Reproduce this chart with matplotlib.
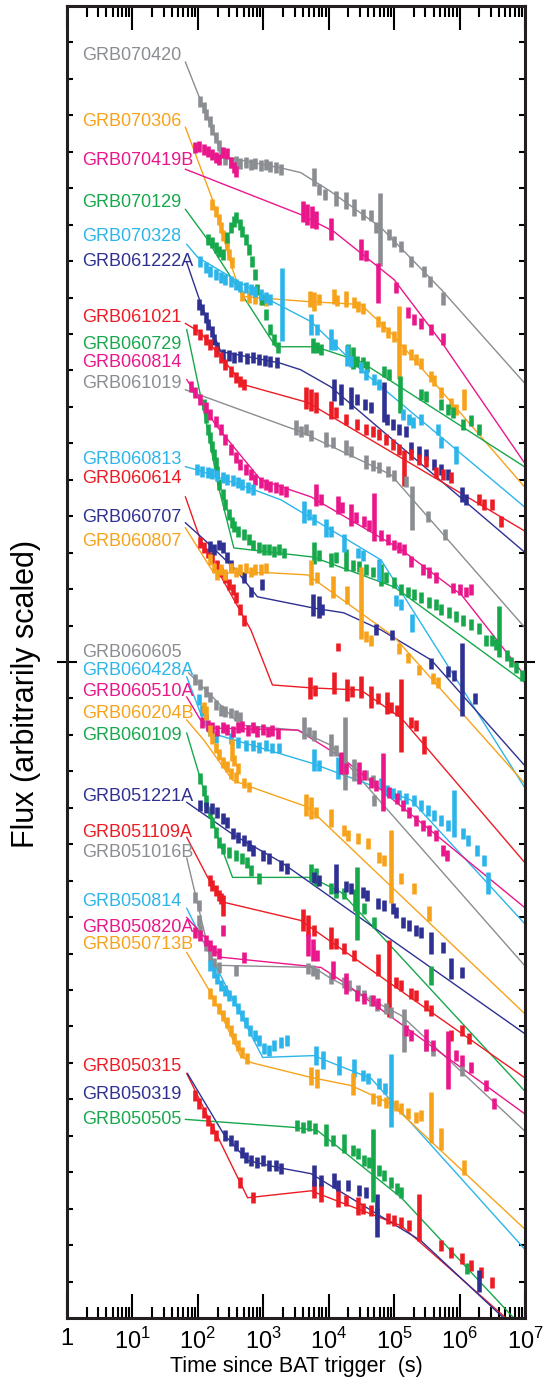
import numpy as np
import matplotlib
matplotlib.use("Agg")
import matplotlib.pyplot as plt
from matplotlib.ticker import FixedLocator, NullFormatter, LogLocator

plt.rcParams["font.family"] = "Liberation Sans"
plt.rcParams["mathtext.fontset"] = "custom"
plt.rcParams["mathtext.rm"] = "Liberation Sans"

GRAY = "#8a8d91"
ORANGE = "#f6a31b"
MAGENTA = "#e9178b"
GREEN = "#17a84b"
CYAN = "#2cb5ea"
NAVY = "#2e3192"
RED = "#ec1c24"

# all values: (log10 t [s], log10 flux [arbitrary]) ; data points may carry a 3rd
# entry = half height of the error bar in dex
g070420_fit = [(1.81, 16.46), (2.38, 13.87), (3.31, 13.54), (3.57, 13.43), (4.03, 12.91), (4.80, 11.92), (5.72, 10.22), (6.99, 7.66)]
g070420_pts = [(2.04, 15.38), (2.09, 15.22), (2.13, 15.03), (2.18, 14.84), (2.22, 14.62), (2.27, 14.40), (2.32, 14.18), (2.36, 13.98),
               (2.42, 13.79), (2.50, 13.71), (2.58, 13.74), (2.65, 13.68), (2.73, 13.71), (2.81, 13.65), (2.88, 13.68), (2.96, 13.63),
               (3.04, 13.65), (3.11, 13.60), (3.19, 13.57), (3.27, 13.52), (3.77, 13.30, 0.25), (3.85, 12.97), (3.94, 12.83),
               (4.11, 12.72, 0.2), (4.26, 12.66, 0.23), (4.39, 12.47, 0.23), (4.52, 12.28), (4.65, 12.25), (4.72, 11.92),
               (4.79, 11.87, 1.0), (4.92, 11.73), (5.0, 11.54), (5.11, 11.40), (5.26, 10.99), (5.46, 10.71), (5.55, 10.44), (5.75, 9.97, 0.17)]

g070306_fit = [(1.81, 14.67), (2.24, 12.61), (2.53, 10.77), (2.68, 10.03), (3.68, 9.89), (4.49, 9.81), (4.95, 9.04), (5.57, 7.75), (6.99, 4.81)]
g070306_pts = [(2.22, 12.55), (2.27, 12.36), (2.32, 12.14), (2.35, 11.92), (2.39, 11.70), (2.44, 11.46), (2.48, 11.18), (2.52, 10.96),
               (2.68, 10.05), (2.78, 10.0), (2.87, 9.97), (2.96, 9.95), (3.04, 9.92), (3.71, 9.95, 0.22), (3.77, 9.89, 0.27),
               (3.85, 9.95), (4.08, 10.03, 0.2), (4.13, 9.92), (4.26, 9.95, 0.22), (4.39, 9.86), (4.45, 9.75), (4.52, 9.70),
               (4.75, 9.34), (4.83, 9.20), (4.91, 9.04), (5.0, 8.93), (5.08, 8.76, 1.0), (5.15, 8.57), (5.26, 8.43), (5.34, 8.30),
               (5.41, 8.19), (5.57, 7.83), (5.61, 7.72), (5.72, 7.39), (5.87, 7.09), (5.95, 6.92), (6.07, 7.20, 0.28)]

g070419b_fit = [(1.81, 13.52), (3.57, 12.28), (4.08, 11.81), (5.0, 10.49), (5.75, 8.71), (6.99, 5.47)]
g070419b_pts = [(1.96, 14.12), (2.02, 14.15), (2.09, 14.07), (2.15, 14.01), (2.21, 13.93), (2.27, 13.85), (2.33, 13.79), (2.39, 13.98),
                (2.44, 13.96), (2.50, 13.71), (2.55, 13.57), (2.59, 13.46), (3.60, 12.36, 0.3), (3.67, 12.28, 0.3), (3.74, 12.20, 0.3),
                (3.80, 12.12, 0.25), (4.03, 11.87, 0.3), (4.49, 11.32, 0.3), (4.57, 11.15), (4.75, 10.41, 0.55), (5.03, 10.27),
                (5.21, 9.59), (5.31, 9.40), (5.41, 9.29), (5.57, 9.12), (5.75, 8.87, 0.17)]

g070129_fit = [(1.81, 12.42), (2.15, 11.59), (2.30, 11.13), (3.19, 8.65), (3.80, 8.65), (4.49, 8.24), (6.99, 5.36)]
g070129_pts = [(2.15, 11.59), (2.21, 11.51), (2.27, 11.37), (2.33, 11.26), (2.39, 11.18), (2.45, 11.65), (2.50, 11.92), (2.55, 12.09),
               (2.59, 12.20), (2.64, 12.01), (2.68, 11.81), (2.73, 11.59), (2.78, 11.32), (2.82, 10.99), (2.87, 10.63), (2.91, 10.22),
               (2.98, 9.95), (3.04, 9.53), (3.10, 9.12), (3.16, 8.85), (3.22, 8.63), (3.76, 8.68, 0.2), (3.82, 8.63), (3.88, 8.57),
               (4.29, 8.52, 0.2), (4.37, 8.35, 0.3), (4.43, 8.24), (4.52, 8.21), (4.59, 8.10), (4.85, 7.97), (4.92, 7.88),
               (5.09, 7.34, 0.5), (5.41, 7.34), (5.49, 7.28), (5.72, 7.06), (5.83, 6.92), (5.90, 6.84), (6.06, 6.51), (6.18, 6.62), (6.30, 6.37)]

g070328_fit = [(1.83, 11.46), (2.0, 11.10), (3.11, 9.92), (3.73, 9.34), (4.49, 8.02), (6.99, 4.26)]
g070328_pts = [(2.04, 10.99), (2.12, 10.82), (2.19, 10.71), (2.27, 10.63), (2.35, 10.55), (2.42, 10.49), (2.50, 10.44), (2.58, 10.36),
               (2.65, 10.30), (2.73, 10.27), (2.81, 10.22), (2.88, 10.16), (2.96, 10.08), (3.04, 10.0), (3.11, 9.95), (3.28, 9.81, 1.0),
               (3.73, 9.26, 0.3), (3.82, 9.12), (4.03, 8.85, 0.3), (4.10, 8.71), (4.28, 8.41, 0.3), (4.34, 8.24), (4.49, 8.08),
               (4.57, 7.88), (4.69, 7.75), (4.77, 7.61), (5.14, 6.79), (5.23, 6.65), (5.29, 6.57), (5.41, 6.65), (5.67, 6.37),
               (5.72, 6.02), (5.95, 5.69, 0.25)]

g061222a_fit = [(1.83, 10.96), (2.04, 9.86), (2.35, 8.52), (3.24, 8.21), (3.57, 8.02), (4.03, 7.55), (6.99, 3.02)]
g061222a_pts = [(2.02, 9.81), (2.07, 9.67), (2.12, 9.45), (2.16, 9.26), (2.21, 9.07), (2.25, 8.85), (2.30, 8.63), (2.38, 8.43),
                (2.47, 8.41), (2.56, 8.35), (2.65, 8.38), (2.75, 8.32), (2.84, 8.35), (2.93, 8.30), (3.02, 8.27), (3.11, 8.24),
                (3.21, 8.21), (4.08, 7.47, 0.3), (4.19, 7.34, 0.3), (4.34, 7.25, 0.3), (4.43, 7.20), (4.56, 7.06), (4.65, 6.98),
                (4.85, 7.14, 0.55), (4.89, 6.65), (4.98, 6.51), (5.08, 6.37), (5.18, 6.32), (5.26, 5.88), (5.38, 5.77), (5.49, 5.69),
                (5.61, 5.41), (5.72, 5.27), (5.83, 5.14), (6.03, 4.59, 0.2), (6.10, 4.45)]

g061021_fit = [(1.81, 9.29), (2.04, 9.04), (2.70, 7.61), (3.68, 7.12), (6.99, 3.60)]
g061021_pts = [(1.96, 9.12), (2.04, 8.98), (2.12, 8.85), (2.19, 8.71), (2.27, 8.52), (2.35, 8.35), (2.42, 8.16), (2.50, 7.97),
               (2.58, 7.80), (2.65, 7.69), (2.70, 7.61), (3.65, 7.25, 0.3), (3.73, 7.20, 0.3), (3.80, 7.12, 0.3), (4.03, 6.92, 0.25),
               (4.11, 6.84), (4.26, 6.65), (4.43, 6.51), (4.57, 6.37), (4.68, 6.32), (4.77, 6.24), (4.88, 6.10), (4.98, 5.96),
               (5.08, 5.82), (5.15, 5.33, 0.5), (5.26, 5.69), (5.38, 5.55), (5.49, 5.49), (5.64, 5.19), (5.75, 5.14), (5.87, 5.05),
               (6.30, 4.45), (6.38, 4.31), (6.49, 4.31), (6.64, 3.85)]

g060729_fit = [(1.83, 9.12), (2.15, 6.37), (2.30, 4.92), (2.55, 3.13), (3.76, 2.88), (5.0, 2.06), (6.99, -0.55)]
g060729_pts = [(2.09, 7.06), (2.12, 6.70), (2.15, 6.37), (2.18, 6.15), (2.21, 5.91), (2.24, 5.69), (2.27, 5.47), (2.30, 5.22),
               (2.33, 4.86), (2.38, 4.59), (2.42, 4.31), (2.47, 4.04), (2.52, 3.82), (2.56, 3.71), (2.62, 3.57), (2.70, 3.49),
               (2.78, 3.35), (2.85, 3.21), (2.93, 3.13), (3.01, 3.08), (3.08, 3.08), (3.16, 3.02), (3.24, 3.08), (3.31, 2.99),
               (3.77, 2.99, 0.3), (3.85, 2.91), (4.03, 2.80, 0.2), (4.11, 2.86), (4.26, 2.80, 0.3), (4.37, 2.66), (4.46, 2.61),
               (4.57, 2.53), (4.68, 2.47), (4.80, 2.39, 0.3), (4.88, 2.31), (5.0, 2.17), (5.11, 1.98), (5.21, 1.92), (5.31, 1.84),
               (5.41, 1.76), (5.54, 1.62), (5.64, 1.57), (5.72, 1.43), (5.84, 1.35), (5.95, 1.24), (6.06, 1.15), (6.18, 1.02),
               (6.29, 0.93), (6.41, 0.60), (6.49, 0.60), (6.56, 0.47), (6.61, 0.85, 0.7), (6.72, 0.19), (6.79, 0.0), (6.87, -0.16), (6.95, -0.36)]

g060814_fit = [(1.83, 7.75), (2.27, 6.51), (2.96, 5.0), (3.73, 4.53), (5.11, 3.08), (6.03, 1.84), (6.99, -0.36)]
g060814_pts = [(1.89, 7.55), (1.96, 7.39), (2.04, 7.20), (2.12, 6.98), (2.19, 6.79), (2.27, 6.59), (2.35, 6.37), (2.42, 6.10),
               (2.50, 5.82), (2.58, 5.60), (2.65, 5.41), (2.73, 5.27), (2.81, 5.14), (2.88, 5.0), (2.96, 4.92), (3.04, 4.86),
               (3.11, 4.81), (3.19, 4.78), (3.27, 4.73), (3.34, 4.67), (3.80, 4.59, 0.3), (3.88, 4.45), (4.14, 4.31, 0.25),
               (4.20, 4.23), (4.34, 4.04, 0.3), (4.42, 3.96), (4.54, 3.85), (4.62, 3.74), (4.69, 3.98, 0.65), (4.80, 3.46),
               (4.91, 3.35), (5.0, 3.21), (5.08, 3.13), (5.15, 3.08), (5.26, 2.75), (5.44, 2.53), (5.54, 2.45), (5.64, 2.31),
               (5.90, 2.03), (6.0, 1.98), (6.10, 1.92), (6.18, 1.98)]

g061019_fit = [(1.81, 7.47), (3.57, 6.32), (4.95, 5.14), (6.99, 0.96)]
g061019_pts = [(3.50, 6.43, 0.2), (3.57, 6.32), (3.65, 6.37), (3.73, 6.21), (3.96, 6.10, 0.2), (4.06, 6.02), (4.26, 5.88, 0.2),
               (4.34, 5.77), (4.57, 5.49, 0.2), (4.68, 5.38), (4.77, 5.33), (4.91, 5.22), (5.0, 5.11), (5.18, 4.95),
               (5.28, 4.23, 0.6), (5.52, 3.98), (5.77, 3.49)]

g060813_fit = [(1.81, 5.36), (1.99, 5.27), (2.85, 4.73), (3.27, 4.45), (4.80, 2.80), (6.99, -3.43)]
g060813_pts = [(1.99, 5.27), (2.07, 5.22), (2.15, 5.19), (2.22, 5.16), (2.30, 5.11), (2.38, 5.05), (2.45, 5.0), (2.53, 4.97),
               (2.61, 4.92), (2.68, 4.86), (2.76, 4.78), (2.84, 4.73), (3.62, 4.12, 0.3), (3.70, 4.04), (3.77, 3.90),
               (3.96, 3.68, 0.25), (4.03, 3.57), (4.23, 3.27, 0.25), (4.45, 2.99), (4.52, 2.91), (4.77, 2.53, 0.3),
               (5.03, 1.70), (5.11, 1.57), (5.28, 1.07, 0.25)]

g060614_fit = [(1.81, 4.53), (2.04, 3.35), (2.81, 0.88), (3.14, -0.63), (3.73, -0.71), (4.49, -0.77), (5.11, -1.54), (6.99, -5.49)]
g060614_pts = [(2.04, 3.27), (2.10, 3.13), (2.16, 2.99), (2.22, 2.86), (2.29, 2.66), (2.35, 2.47), (2.41, 2.31), (2.47, 2.12),
               (2.53, 1.98), (2.59, 1.76), (2.65, 1.43), (2.70, 1.15), (4.14, 0.41, 0.1), (3.71, -0.71, 0.3), (3.79, -0.77),
               (4.08, -0.58, 0.3), (4.28, -0.77, 0.3), (4.36, -0.82), (4.49, -0.69, 0.3), (4.65, -0.96, 0.3), (4.75, -0.99),
               (4.89, -1.13, 0.3), (4.95, -1.26), (5.05, -1.32), (5.11, -1.48, 1.0), (5.26, -1.65), (5.34, -1.73), (5.46, -2.28, 0.25)]

g060707_fit = [(1.81, 3.82), (2.15, 3.27), (2.58, 2.53), (2.91, 1.79), (3.77, 1.48), (4.23, 1.35), (4.80, 0.88), (5.57, 0.05), (6.99, -2.83)]
g060707_pts = [(2.18, 3.16), (2.24, 3.08), (2.33, 3.21), (2.39, 3.13), (2.44, 2.86), (2.50, 2.66), (2.70, 2.31), (2.81, 1.92),
               (2.98, 2.12), (3.76, 1.57, 0.3), (3.85, 1.51, 0.3), (3.90, 1.43), (4.72, 0.88), (4.97, 0.74), (5.57, -0.03),
               (5.83, -0.27), (5.92, -0.36), (6.03, -0.49, 1.0), (6.23, -0.99)]

g060807_fit = [(1.81, 3.68), (2.24, 2.45), (3.07, 2.45), (3.68, 2.39), (5.0, 0.69), (6.99, -3.32)]
g060807_pts = [(2.18, 2.80), (2.24, 2.58), (2.30, 2.39), (2.35, 2.53), (2.42, 2.39), (2.50, 2.58), (2.58, 2.47), (2.65, 2.53),
               (2.73, 2.58), (2.81, 2.47), (2.88, 2.55), (2.96, 2.53), (3.04, 2.58), (3.73, 2.45, 0.35), (3.82, 2.31),
               (4.06, 2.06, 0.3), (4.28, 1.84, 0.25), (4.49, 1.62, 1.0), (4.57, 0.69), (4.65, 0.60), (5.08, 0.38), (5.21, 0.11),
               (5.38, -0.22), (5.60, -0.44), (5.67, -0.55)]

g060605_fit = [(1.86, -0.30), (2.65, -1.73), (3.53, -1.87), (4.03, -2.28), (6.99, -8.32)]
g060605_pts = [(1.96, -0.49), (2.04, -0.63), (2.12, -0.82), (2.19, -0.96), (2.27, -1.18), (2.35, -1.32), (2.42, -1.37), (2.50, -1.40),
               (2.58, -1.46), (2.65, -1.51), (3.62, -1.81, 0.3), (3.70, -1.92), (3.77, -2.01), (4.03, -2.28, 0.3), (4.11, -2.42),
               (4.25, -2.50, 1.0), (4.39, -2.97, 0.3), (4.57, -3.10), (4.68, -3.24), (4.69, -3.79)]

g060428a_fit = [(1.83, -0.41), (2.15, -1.92), (3.73, -2.77), (5.26, -3.79), (6.99, -7.17)]
g060428a_pts = [(2.01, -1.04), (2.07, -1.32), (2.13, -1.59), (2.19, -1.87), (2.27, -2.06), (2.50, -2.09), (2.61, -2.20), (2.73, -2.28),
                (2.84, -2.28), (2.93, -2.34), (3.04, -2.28), (3.14, -2.36), (3.24, -2.36), (3.77, -2.69, 0.3), (3.85, -2.83),
                (4.14, -2.91, 0.3), (4.80, -3.32), (4.89, -3.52), (4.98, -3.60), (5.08, -3.65), (5.18, -3.74), (5.31, -3.79),
                (5.41, -3.93), (5.52, -4.07), (5.61, -4.20), (5.72, -4.34), (5.83, -4.48), (5.92, -4.15, 0.65), (6.06, -4.70),
                (6.13, -4.89), (6.26, -5.16), (6.37, -5.44), (6.44, -6.07, 0.3)]

g060510a_fit = [(1.83, -0.96), (2.04, -1.59), (2.19, -1.81), (3.53, -1.87), (4.19, -2.61), (6.99, -6.73)]
g060510a_pts = [(2.07, -1.65), (2.15, -1.73), (2.22, -1.81), (2.30, -1.87), (2.38, -1.79), (2.45, -1.84), (2.53, -1.90), (2.61, -1.81),
                (2.68, -1.76), (2.76, -1.87), (2.84, -1.81), (2.91, -1.90), (2.99, -1.84), (3.07, -1.92), (3.14, -1.87), (3.22, -1.95),
                (4.19, -2.77, 0.3), (4.26, -2.91), (4.46, -3.05, 0.3), (4.54, -3.10), (4.65, -3.30), (4.72, -3.38), (4.83, -3.30, 0.8),
                (4.92, -3.57), (5.05, -3.74), (5.14, -3.93), (5.23, -4.12), (5.34, -4.34), (5.44, -4.48), (5.54, -4.62),
                (5.64, -4.75), (5.75, -5.16), (5.81, -5.30)]

g060204b_fit = [(1.83, -1.59), (2.09, -2.14), (2.53, -3.24), (2.81, -3.43), (3.68, -3.98), (6.99, -9.64)]
g060204b_pts = [(2.10, -1.26), (2.13, -1.40, 0.2), (2.18, -1.87), (2.22, -2.09), (2.27, -2.36), (2.32, -2.55), (2.38, -2.75),
                (2.44, -2.88), (2.52, -2.42, 0.3), (2.56, -2.69), (2.61, -2.91), (2.50, -3.05), (2.59, -3.16), (2.70, -3.32),
                (2.78, -3.43), (3.65, -3.93, 0.3), (3.73, -4.01, 0.3), (3.80, -4.12), (4.03, -4.29, 0.25), (4.23, -4.62),
                (4.29, -4.75), (4.45, -4.84), (4.60, -4.97), (4.77, -5.36), (4.85, -5.44), (4.95, -5.60, 1.0), (5.11, -5.93),
                (5.31, -6.21), (5.54, -6.90, 0.2)]

g060109_fit = [(1.83, -1.95), (2.32, -4.89), (2.53, -5.91), (3.73, -5.91), (4.19, -6.32), (6.99, -11.76)]
g060109_pts = [(2.04, -3.19), (2.09, -3.52), (2.13, -3.79), (2.18, -4.12), (2.22, -4.40), (2.27, -4.67), (2.33, -4.95), (2.39, -5.11),
               (2.47, -5.22), (2.58, -5.30), (2.67, -5.38), (2.75, -5.49), (2.81, -5.71), (2.93, -5.93), (3.73, -5.80, 0.25),
               (3.80, -5.91, 0.25), (4.03, -6.21), (4.11, -6.32), (4.23, -6.35), (4.40, -6.54, 0.3), (4.43, -6.62, 1.0),
               (4.54, -6.76), (4.69, -7.14), (5.57, -8.60, 0.25)]

g051221a_fit = [(1.83, -3.85), (2.55, -4.75), (3.27, -5.49), (6.99, -10.19)]
g051221a_pts = [(2.04, -3.93), (2.12, -3.98), (2.22, -4.01), (2.30, -4.12), (2.38, -4.29), (2.45, -4.40), (2.53, -4.70), (2.62, -4.81),
                (2.70, -4.89), (2.78, -5.03), (2.85, -5.16), (2.99, -5.30), (3.08, -5.38), (3.27, -5.58), (3.36, -5.66),
                (3.77, -5.91), (3.85, -5.99), (4.11, -5.93, 0.4), (4.26, -6.15), (4.34, -6.21), (4.52, -6.32), (4.59, -6.40),
                (4.75, -6.62), (4.85, -6.68), (4.98, -6.76), (5.03, -6.87), (5.14, -7.14), (5.23, -7.23), (5.34, -7.36),
                (5.41, -7.42), (5.57, -7.72, 0.3), (5.74, -7.83), (5.87, -8.41, 0.3), (6.03, -8.52)]

g051109a_fit = [(1.83, -4.81), (2.15, -5.91), (2.39, -6.59), (3.57, -7.09), (6.99, -11.40)]
g051109a_pts = [(2.18, -5.99), (2.22, -6.13), (2.27, -6.26), (2.32, -6.40), (2.36, -6.48), (2.39, -6.68, 0.3), (3.60, -7.09, 0.3),
                (3.68, -7.23, 0.3), (3.77, -7.36), (4.03, -7.58, 0.3), (4.11, -7.72), (4.23, -7.86), (4.39, -8.05),
                (4.75, -8.32, 0.3), (4.92, -8.68, 1.05), (5.03, -8.79), (5.11, -8.87), (5.26, -9.09), (5.34, -9.15),
                (5.49, -9.42), (5.57, -9.56), (5.87, -10.25), (6.03, -10.11), (6.15, -10.33)]

g051016b_fit = [(1.83, -5.38), (2.22, -8.32), (3.77, -8.38), (4.03, -8.68), (5.11, -9.70), (6.99, -12.86)]
g051016b_pts = [(1.96, -6.46), (2.01, -6.68), (2.02, -7.09), (2.04, -7.36), (2.12, -7.77), (2.18, -8.05), (2.24, -8.27), (2.32, -8.38),
                (2.59, -8.46), (3.68, -8.41), (3.76, -8.46), (3.82, -8.54), (4.03, -8.68), (4.23, -8.79), (4.31, -8.87),
                (4.45, -9.01), (4.54, -9.15), (4.65, -9.29), (4.74, -9.42), (4.88, -9.51), (4.95, -9.62), (5.15, -10.11, 0.6),
                (5.49, -10.52), (5.60, -10.66), (6.03, -11.21)]

g050814_fit = [(1.83, -6.76), (2.15, -7.91), (2.99, -10.85), (3.77, -10.80), (4.65, -11.43), (6.99, -16.10)]
g050814_pts = [(2.18, -8.32), (2.24, -8.52), (2.30, -8.68), (2.36, -8.87), (2.42, -9.01), (2.48, -9.15), (2.55, -9.29), (2.61, -9.51),
               (2.67, -9.70), (2.73, -9.89), (2.79, -10.11), (2.87, -10.25), (2.93, -10.38), (3.01, -10.60), (3.08, -10.66),
               (3.17, -10.52), (3.27, -10.44), (3.36, -10.38), (3.80, -10.80, 0.25), (3.91, -10.93, 0.25), (4.16, -11.07, 0.25),
               (4.39, -11.15, 0.25), (4.52, -11.35), (4.60, -11.43), (4.77, -11.57), (4.86, -11.70), (4.95, -11.76, 1.0)]

g050820a_fit = [(1.83, -7.01), (2.15, -7.64), (2.35, -8.10), (3.88, -8.38), (4.19, -8.74), (6.99, -12.39)]
g050820a_pts = [(1.96, -7.42), (2.04, -7.50), (2.12, -7.64), (2.18, -7.77), (2.24, -7.91), (2.32, -7.99), (2.38, -7.36), (2.70, -8.10),
                (3.68, -7.77, 0.3), (3.76, -7.91, 0.3), (3.82, -8.05), (4.06, -8.46, 0.25), (4.26, -8.82, 0.3), (4.43, -9.15),
                (4.54, -9.23), (4.68, -9.29), (4.75, -9.37), (5.18, -10.11), (5.26, -10.25), (5.49, -10.38, 0.3), (5.60, -10.52),
                (5.83, -10.93, 0.8), (5.95, -10.80), (6.03, -10.93), (6.18, -11.13), (6.41, -11.62), (6.53, -12.12)]

g050713b_fit = [(1.83, -7.97), (2.22, -9.15), (2.65, -10.80), (2.81, -10.99), (3.73, -11.40), (4.34, -11.62), (4.95, -12.12), (6.99, -15.55)]
g050713b_pts = [(2.19, -9.09), (2.25, -9.29), (2.32, -9.51), (2.38, -9.70), (2.44, -9.89), (2.50, -10.11), (2.56, -10.33),
                (2.62, -10.52), (2.68, -10.71), (2.75, -10.88), (3.73, -11.35, 0.25), (3.82, -11.43, 0.25), (4.37, -11.57, 0.3),
                (4.68, -11.98), (4.77, -12.03), (4.88, -12.09), (5.03, -12.17), (5.11, -12.25), (5.21, -12.39), (5.34, -12.50),
                (5.41, -12.45), (5.57, -12.50, 0.7), (5.72, -13.08, 0.3), (6.07, -13.87, 0.2)]

g050315_fit = [(1.83, -11.29), (2.76, -14.70), (3.73, -14.51), (5.11, -15.47), (6.79, -18.13)]
g050315_pts = [(1.96, -11.90), (2.02, -12.12), (2.09, -12.36), (2.15, -12.58), (2.21, -12.80), (2.27, -12.99), (2.64, -14.29),
               (2.85, -14.70), (3.77, -14.45, 0.25), (3.88, -14.56, 0.25), (4.14, -14.70, 0.25), (4.26, -14.78),
               (4.45, -14.92, 0.25), (4.52, -15.0), (4.65, -15.05), (4.74, -15.14), (4.91, -15.27), (5.0, -15.33),
               (5.11, -15.38), (5.23, -15.47), (5.38, -15.25, 0.65), (5.72, -16.02), (5.87, -16.21), (6.03, -16.37),
               (6.18, -16.57), (6.33, -16.76), (6.49, -17.03)]

g050319_fit = [(1.84, -11.29), (2.39, -12.94), (2.76, -13.68), (3.22, -13.87), (3.73, -14.04), (5.41, -15.88), (6.72, -18.08)]
g050319_pts = [(2.42, -12.99), (2.50, -13.13), (2.59, -13.27), (2.67, -13.46), (2.73, -13.60), (2.81, -13.68), (2.90, -13.74),
               (2.99, -13.68), (3.08, -13.82), (3.19, -13.82), (3.27, -13.90), (3.77, -14.09, 0.3), (3.88, -14.23),
               (4.08, -14.23, 0.2), (4.14, -14.37), (4.29, -14.37), (4.46, -14.51), (4.57, -14.56), (4.74, -15.19, 0.6),
               (6.30, -16.98, 0.3)]

g050505_fit = [(1.81, -12.55), (3.47, -12.77), (3.83, -12.86), (5.11, -14.70), (6.87, -18.08)]
g050505_pts = [(3.51, -12.72), (3.60, -12.77), (3.70, -12.72), (3.79, -12.80), (3.96, -12.99, 0.3), (4.06, -13.13),
               (4.23, -13.21, 0.25), (4.37, -13.41), (4.45, -13.49), (4.54, -13.68), (4.62, -13.74), (4.68, -13.82, 1.0),
               (4.77, -13.96), (4.85, -14.09), (4.95, -14.29), (5.05, -14.45), (5.11, -14.56), (6.12, -16.65)]

grbs = [
    ("GRB070420", GRAY, g070420_fit, g070420_pts),
    ("GRB070306", ORANGE, g070306_fit, g070306_pts),
    ("GRB070419B", MAGENTA, g070419b_fit, g070419b_pts),
    ("GRB070129", GREEN, g070129_fit, g070129_pts),
    ("GRB070328", CYAN, g070328_fit, g070328_pts),
    ("GRB061222A", NAVY, g061222a_fit, g061222a_pts),
    ("GRB061021", RED, g061021_fit, g061021_pts),
    ("GRB060729", GREEN, g060729_fit, g060729_pts),
    ("GRB060814", MAGENTA, g060814_fit, g060814_pts),
    ("GRB061019", GRAY, g061019_fit, g061019_pts),
    ("GRB060813", CYAN, g060813_fit, g060813_pts),
    ("GRB060614", RED, g060614_fit, g060614_pts),
    ("GRB060707", NAVY, g060707_fit, g060707_pts),
    ("GRB060807", ORANGE, g060807_fit, g060807_pts),
    ("GRB060605", GRAY, g060605_fit, g060605_pts),
    ("GRB060428A", CYAN, g060428a_fit, g060428a_pts),
    ("GRB060510A", MAGENTA, g060510a_fit, g060510a_pts),
    ("GRB060204B", ORANGE, g060204b_fit, g060204b_pts),
    ("GRB060109", GREEN, g060109_fit, g060109_pts),
    ("GRB051221A", NAVY, g051221a_fit, g051221a_pts),
    ("GRB051109A", RED, g051109a_fit, g051109a_pts),
    ("GRB051016B", GRAY, g051016b_fit, g051016b_pts),
    ("GRB050814", CYAN, g050814_fit, g050814_pts),
    ("GRB050820A", MAGENTA, g050820a_fit, g050820a_pts),
    ("GRB050713B", ORANGE, g050713b_fit, g050713b_pts),
    ("GRB050315", RED, g050315_fit, g050315_pts),
    ("GRB050319", NAVY, g050319_fit, g050319_pts),
    ("GRB050505", GREEN, g050505_fit, g050505_pts),
]

# vertical placement of the burst names (log10 flux units)
label_y = [16.65, 14.84, 13.76, 12.61, 11.68, 10.99, 9.45, 8.71, 8.21, 7.64, 5.55, 5.03, 3.96, 3.32,
           0.25, -0.22, -0.80, -1.40, -2.03, -3.68, -4.67, -5.22, -6.57, -7.28, -7.75, -11.10, -11.87, -12.55]
label_x = 0.23

fig = plt.figure(figsize=(5.47, 13.87), dpi=100)
ax = fig.add_axes([67 / 547, 69 / 1387, 458 / 547, 1312 / 1387])
ax.set_xscale("log")
ax.set_yscale("log")

for (name, col, fit, pts), ly in zip(grbs, label_y):
    fit = np.array(fit)
    ax.plot(10 ** fit[:, 0], 10 ** fit[:, 1], color=col, lw=1.0, zorder=2)
    t = np.array([p[0] for p in pts])
    f = np.array([p[1] for p in pts])
    e = np.array([p[2] if len(p) > 2 else 0.15 for p in pts])
    ax.vlines(10 ** t, 10 ** (f - e), 10 ** (f + e), color=col, lw=3.3, zorder=3)
    ax.text(10 ** label_x, 10 ** ly, name, color=col, fontsize=13, ha="left", va="center")

ax.set_xlim(1, 1e7)
ax.set_ylim(1e-18, 1e18)

ax.set_xticks([10.0 ** k for k in range(8)])
ax.set_xticklabels(["1"] + [r"$10^{%d}$" % k for k in range(1, 8)])
ax.xaxis.set_minor_locator(LogLocator(base=10, subs=np.arange(2, 10), numticks=20))
ax.xaxis.set_minor_formatter(NullFormatter())
ax.tick_params(axis="x", which="major", direction="in", length=17, width=1.5, top=True, labelsize=17, pad=7)
ax.tick_params(axis="x", which="minor", direction="in", length=8, width=1.5, top=True)

ax.set_yticks([1.0])
ax.yaxis.set_minor_locator(FixedLocator([10.0 ** k for k in range(-17, 18) if k != 0]))
ax.yaxis.set_minor_formatter(NullFormatter())
ax.tick_params(axis="y", which="major", direction="inout", length=14, width=1.5, right=True, labelleft=False)
ax.tick_params(axis="y", which="minor", direction="in", length=4, width=1.5, right=True)

for s in ax.spines.values():
    s.set_linewidth(2.2)
    s.set_color("#231f20")

ax.set_xlabel("Time since BAT trigger  (s)", fontsize=15.5)
ax.xaxis.set_label_coords(0.5, -0.029)
ax.xaxis.label.set_va("top")
ax.set_ylabel("Flux (arbitrarily scaled)", fontsize=22)
ax.yaxis.set_label_coords(-0.057, 0.476)

fig.savefig("out.png", dpi=100)
